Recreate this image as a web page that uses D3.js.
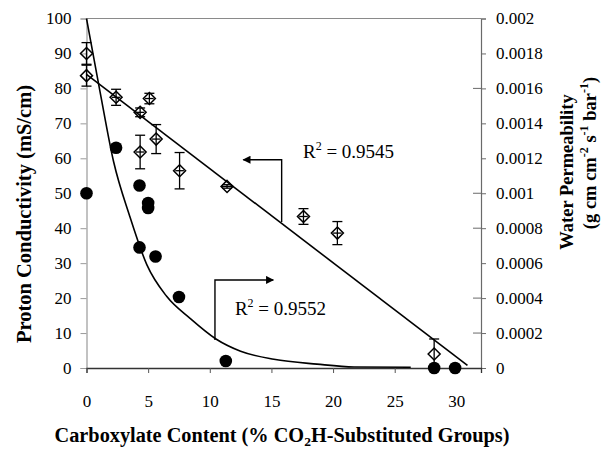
<!DOCTYPE html>
<html>
<head>
<meta charset="utf-8">
<script src="https://cdn.jsdelivr.net/npm/d3@7"></script>
<style>
  body { margin: 0; background: #fff; }
</style>
</head>
<body>
<div id="fig"></div>
<script>
const fig_width = 602
const fig_height = 449
const serif = "'Liberation Serif', 'Times New Roman', Times, 'DejaVu Serif', serif"

// Proton conductivity (filled circles, left axis, mS/cm)
const proton_x = [0, 2.4, 4.3, 4.3, 5.0, 5.0, 5.6, 7.5, 11.3, 28.2, 29.9]
const proton_y = [50, 63, 52.2, 34.5, 47.2, 45.8, 31.9, 20.3, 2.0, 0, 0]

// Water permeability (open diamonds, right axis)
const water_x = [0, 0, 2.4, 4.35, 5.1, 4.35, 5.65, 7.55, 11.4, 17.6, 20.35, 28.2]
const water_y = [0.0018, 0.001673, 0.001549, 0.001463, 0.001542, 0.001236, 0.00131, 0.001129, 0.001039, 0.000867, 0.000772, 0.00008]
const water_err = [0.000062, 0.00006, 0.000046, 0.000025, 0.00003, 0.000096, 0.000083, 0.000104, 0.00001, 0.000045, 0.000066, 0.000086]
const water_xerr = [0, 0, 0.35, 0.35, 0.35, 0.35, 0.35, 0.35, 0.5, 0.35, 0.35, 0]

// Fit curves
const exp_fit_x = [0, 1.1, 2.2, 3.5, 4.9, 6.5, 8.4, 10.5, 12.5, 15.2, 18.7, 21.7, 26.3]
const exp_fit_y = [100, 79, 59, 43.5, 29.5, 20.5, 14.2, 8.3, 4.8, 2.5, 1.1, 0.3, 0.2]
const lin_fit_x = [0, 30.9]
const lin_fit_y = [0.00168, 0.000015]

// Axis ticks
const x_ticks = [0, 5, 10, 15, 20, 25, 30]
const left_ticks = [0, 10, 20, 30, 40, 50, 60, 70, 80, 90, 100]
const right_ticks = [0, 0.0002, 0.0004, 0.0006, 0.0008, 0.001, 0.0012, 0.0014, 0.0016, 0.0018, 0.002]
const right_cross_ticks = [0.0002, 0.0004, 0.0008, 0.001, 0.0016]

// Annotations (data units, left axis for y)
const r2_labels = [
    {text: '0.9545', x: 17.56, y: 60.2},
    {text: '0.9552', x: 12.04, y: 15.2}
]
const arrow_paths = [
    [[15.83, 41.8], [15.83, 59.6], [12.72, 59.6]],
    [[10.42, 8.0], [10.42, 25.2], [15.15, 25.2]]
]

const plot = {left: 86.5, right: 481, top: 18.5, bottom: 368}

let xScale = d3.scaleLinear().domain([0, 32]).range([plot.left, plot.right])
let yLeft = d3.scaleLinear().domain([0, 100]).range([plot.bottom, plot.top])
let yRight = d3.scaleLinear().domain([0, 0.002]).range([plot.bottom, plot.top])

let fig = d3.select('#fig')
    .append('svg')
    .attr('width', fig_width)
    .attr('height', fig_height)
    .style('font-family', serif)

fig.append('defs').append('marker')
    .attr('id', 'arrowhead')
    .attr('viewBox', '0 0 10 10')
    .attr('refX', 9)
    .attr('refY', 5)
    .attr('markerUnits', 'userSpaceOnUse')
    .attr('markerWidth', 10)
    .attr('markerHeight', 8)
    .attr('orient', 'auto')
    .append('path')
    .attr('d', 'M0,0 L10,5 L0,10 Z')
    .attr('fill', '#000')

// Frame: top border + axes
fig.append('line')
    .attr('x1', plot.left).attr('x2', plot.right)
    .attr('y1', plot.top).attr('y2', plot.top)
    .attr('stroke', '#8a8a8a').attr('stroke-width', 1.2)

// Left axis
let leftAxis = fig.append('g')
    .attr('transform', `translate(${plot.left},0)`)
    .call(d3.axisLeft(yLeft).tickValues(left_ticks).tickSize(6).tickPadding(9).tickFormat(d3.format('d')))
leftAxis.select('.domain').attr('stroke', '#9a9a9a').attr('stroke-width', 1.2)
leftAxis.selectAll('.tick line').attr('stroke', '#9a9a9a')

// Right axis
let rightAxis = fig.append('g')
    .attr('transform', `translate(${plot.right},0)`)
    .call(d3.axisRight(yRight).tickValues(right_ticks).tickSize(5).tickPadding(10).tickFormat(d => d === 0 ? '0' : String(+d.toFixed(4))))
rightAxis.select('.domain').attr('stroke', '#6a6a6a').attr('stroke-width', 1.2)
rightAxis.selectAll('.tick line').attr('stroke', '#6a6a6a')

// a few of the right ticks cross the axis
fig.append('g').selectAll('line')
    .data(right_cross_ticks)
    .join('line')
    .attr('x1', plot.right - 8).attr('x2', plot.right)
    .attr('y1', d => yRight(d)).attr('y2', d => yRight(d))
    .attr('stroke', '#6a6a6a')

// Bottom axis
let bottomAxis = fig.append('g')
    .attr('transform', `translate(0,${plot.bottom})`)
    .call(d3.axisBottom(xScale).tickValues(x_ticks).tickSize(5).tickPadding(22).tickFormat(d3.format('d')))
bottomAxis.select('.domain').attr('stroke', '#333').attr('stroke-width', 1.3)
bottomAxis.selectAll('.tick line').attr('stroke', '#555')

// d3 axes put a sans-serif font on their groups, override it
fig.selectAll('g').attr('font-family', null)
fig.selectAll('.tick text')
    .attr('font-size', '17px')
    .attr('fill', '#000')
    .style('font-family', serif)

// Fit lines
let expLine = d3.line()
    .x(d => xScale(d[0]))
    .y(d => yLeft(d[1]))
    .curve(d3.curveMonotoneX)
fig.append('path')
    .datum(d3.zip(exp_fit_x, exp_fit_y))
    .attr('d', expLine)
    .attr('fill', 'none')
    .attr('stroke', '#000')
    .attr('stroke-width', 1.6)

fig.append('path')
    .datum(d3.zip(lin_fit_x, lin_fit_y))
    .attr('d', d3.line().x(d => xScale(d[0])).y(d => yRight(d[1])))
    .attr('fill', 'none')
    .attr('stroke', '#000')
    .attr('stroke-width', 1.6)

// Water permeability: error bars then diamonds
let water_data = water_x.map((x, i) => ({x: x, y: water_y[i], err: water_err[i], xerr: water_xerr[i]}))

let errG = fig.append('g').attr('stroke', '#000').attr('stroke-width', 1.3)
errG.selectAll('line.vbar')
    .data(water_data)
    .join('line')
    .attr('class', 'vbar')
    .attr('x1', d => xScale(d.x)).attr('x2', d => xScale(d.x))
    .attr('y1', d => yRight(d.y - d.err)).attr('y2', d => yRight(d.y + d.err))
errG.selectAll('line.captop')
    .data(water_data)
    .join('line')
    .attr('class', 'captop')
    .attr('x1', d => xScale(d.x) - 5).attr('x2', d => xScale(d.x) + 5)
    .attr('y1', d => yRight(d.y + d.err)).attr('y2', d => yRight(d.y + d.err))
errG.selectAll('line.capbot')
    .data(water_data)
    .join('line')
    .attr('class', 'capbot')
    .attr('x1', d => xScale(d.x) - 5).attr('x2', d => xScale(d.x) + 5)
    .attr('y1', d => yRight(d.y - d.err)).attr('y2', d => yRight(d.y - d.err))
errG.selectAll('line.hbar')
    .data(water_data.filter(d => d.xerr > 0))
    .join('line')
    .attr('class', 'hbar')
    .attr('x1', d => xScale(d.x - d.xerr)).attr('x2', d => xScale(d.x + d.xerr))
    .attr('y1', d => yRight(d.y)).attr('y2', d => yRight(d.y))

let dsize = 6
fig.append('g').selectAll('path.diamond')
    .data(water_data)
    .join('path')
    .attr('class', 'diamond')
    .attr('d', d => {
        let cx = xScale(d.x), cy = yRight(d.y)
        return `M${cx},${cy - dsize} L${cx + dsize},${cy} L${cx},${cy + dsize} L${cx - dsize},${cy} Z`
    })
    .attr('fill', 'none')
    .attr('stroke', '#000')
    .attr('stroke-width', 1.5)

// Proton conductivity circles
fig.append('g').selectAll('circle.proton')
    .data(d3.zip(proton_x, proton_y))
    .join('circle')
    .attr('class', 'proton')
    .attr('cx', d => xScale(d[0]))
    .attr('cy', d => yLeft(d[1]))
    .attr('r', 6.3)
    .attr('fill', '#000')

// Annotation arrows + R^2 labels
fig.append('g').selectAll('path.arrow')
    .data(arrow_paths)
    .join('path')
    .attr('class', 'arrow')
    .attr('d', d3.line().x(d => xScale(d[0])).y(d => yLeft(d[1])))
    .attr('fill', 'none')
    .attr('stroke', '#000')
    .attr('stroke-width', 1.4)
    .attr('marker-end', 'url(#arrowhead)')

let r2 = fig.append('g').selectAll('text.r2')
    .data(r2_labels)
    .join('text')
    .attr('class', 'r2')
    .attr('x', d => xScale(d.x))
    .attr('y', d => yLeft(d.y))
    .attr('font-size', '19px')
    .style('font-family', serif)
r2.append('tspan').text('R')
r2.append('tspan').attr('font-size', '12px').attr('dy', -8).text('2')
r2.append('tspan').attr('dy', 8).text(d => ` = ${d.text}`)

// Axis titles
fig.append('text')
    .attr('transform', 'translate(31,214) rotate(-90)')
    .attr('text-anchor', 'middle')
    .attr('font-weight', 'bold')
    .attr('font-size', '20.5px')
    .style('font-family', serif)
    .text('Proton Conductivity (mS/cm)')

fig.append('text')
    .attr('transform', 'translate(573,172) rotate(-90)')
    .attr('text-anchor', 'middle')
    .attr('font-weight', 'bold')
    .attr('font-size', '18.5px')
    .style('font-family', serif)
    .text('Water Permeability')

let unitTxt = fig.append('text')
    .attr('transform', 'translate(596,153) rotate(-90)')
    .attr('text-anchor', 'middle')
    .attr('font-weight', 'bold')
    .attr('font-size', '18.5px')
    .style('font-family', serif)
unitTxt.append('tspan').text('(g cm cm')
unitTxt.append('tspan').attr('font-size', '12px').attr('dy', -8).text('-2')
unitTxt.append('tspan').attr('dy', 8).text(' s')
unitTxt.append('tspan').attr('font-size', '12px').attr('dy', -8).text('-1')
unitTxt.append('tspan').attr('dy', 8).text(' bar')
unitTxt.append('tspan').attr('font-size', '12px').attr('dy', -8).text('-1')
unitTxt.append('tspan').attr('dy', 8).text(')')

let xTitle = fig.append('text')
    .attr('x', 282)
    .attr('y', 442)
    .attr('text-anchor', 'middle')
    .attr('font-weight', 'bold')
    .attr('font-size', '20.3px')
    .style('font-family', serif)
xTitle.append('tspan').text('Carboxylate Content (% CO')
xTitle.append('tspan').attr('font-size', '13.5px').attr('dy', 4).text('2')
xTitle.append('tspan').attr('dy', -4).text('H-Substituted Groups)')
</script>
</body>
</html>
